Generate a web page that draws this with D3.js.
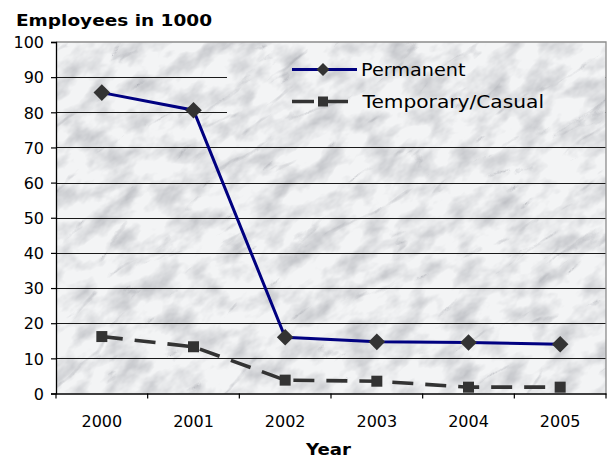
<!DOCTYPE html>
<html><head><meta charset="utf-8">
<script src="https://cdn.jsdelivr.net/npm/d3@7"></script>
<style>
html,body{margin:0;padding:0;background:#fff;}
svg{display:block;font-family:"DejaVu Sans",Verdana,sans-serif;}
</style></head>
<body>
<script>
const years = ["2000","2001","2002","2003","2004","2005"];
const permanent = [85.6, 80.6, 16.0, 14.7, 14.5, 14.0];
const temporary = [16.2, 13.3, 3.8, 3.5, 1.8, 1.8];
const yTicks = [0,10,20,30,40,50,60,70,80,90,100];
const seriesNames = ["Permanent","Temporary/Casual"];

const W = 610, H = 459;
const L = 56, R = 606, T = 42, B = 393.5;

const svg = d3.select("body").append("svg").attr("width", W).attr("height", H);
const defs = svg.append("defs");

// mottled layer
const f1 = defs.append("filter").attr("id","mottle")
  .attr("filterUnits","userSpaceOnUse").attr("x",-400).attr("y",-400).attr("width",1600).attr("height",1600)
  .attr("color-interpolation-filters","sRGB");
f1.append("feTurbulence").attr("type","fractalNoise").attr("baseFrequency","0.03 0.05")
  .attr("numOctaves",4).attr("seed",5).attr("result","n");
f1.append("feColorMatrix").attr("in","n").attr("type","matrix")
  .attr("values","0 0 0 0 0.58  0 0 0 0 0.59  0 0 0 0 0.62  1.1 0 0 0 -0.44");
// vein layer
const f2 = defs.append("filter").attr("id","veins")
  .attr("filterUnits","userSpaceOnUse").attr("x",-400).attr("y",-400).attr("width",1600).attr("height",1600)
  .attr("color-interpolation-filters","sRGB");
f2.append("feTurbulence").attr("type","turbulence").attr("baseFrequency","0.008 0.025")
  .attr("numOctaves",4).attr("seed",11).attr("result","t");
f2.append("feColorMatrix").attr("in","t").attr("type","matrix")
  .attr("values","0 0 0 0 0.48  0 0 0 0 0.49  0 0 0 0 0.53  -2.4 0 0 0 0.30");

defs.append("clipPath").attr("id","plotClip").append("rect")
  .attr("x",L).attr("y",T).attr("width",R-L).attr("height",B-T);
defs.append("clipPath").attr("id","legClip").append("rect")
  .attr("x",227).attr("y",T+0.5).attr("width",R-227-0.5).attr("height",145-T);

function texture(clipId){
  const g = svg.append("g").attr("clip-path",`url(#${clipId})`);
  g.append("rect").attr("x",L).attr("y",T).attr("width",R-L).attr("height",B-T).attr("fill","#f3f4f5");
  const r = g.append("g").attr("transform","rotate(-35 330 220)");
  r.append("rect").attr("x",-200).attr("y",-200).attr("width",1100).attr("height",900)
   .attr("fill","#fff").attr("filter","url(#mottle)");
  r.append("rect").attr("x",-200).attr("y",-200).attr("width",1100).attr("height",900)
   .attr("fill","#fff").attr("filter","url(#veins)");
  return g;
}
texture("plotClip");

const x = d3.scaleBand().domain(years).range([L, R]).padding(0);
const y = d3.scaleLinear().domain([0,100]).range([B, T]);

// gridlines
const grid = svg.append("g").attr("transform",`translate(${L},0)`)
  .call(d3.axisLeft(y).tickValues(yTicks.filter(v=>v>0 && v<100)).tickSize(-(R-L)).tickFormat(""));
grid.select(".domain").remove();
grid.selectAll("line").attr("stroke","#1a1a1a").attr("stroke-width",1).attr("shape-rendering","crispEdges");

// legend box covering gridlines
texture("legClip");

// frame top/right
svg.append("path").attr("d",`M${L},${y(100)}H${R}V${B}`).attr("fill","none")
  .attr("stroke","#8c8c8c").attr("stroke-width",1.3);

// y axis
const ya = svg.append("g").attr("transform",`translate(${L},0)`)
  .call(d3.axisLeft(y).tickValues(yTicks).tickSize(5).tickPadding(7));
ya.select(".domain").attr("stroke","#000").attr("stroke-width",1.3);
ya.selectAll(".tick line").attr("stroke","#000").attr("stroke-width",1.2);
ya.selectAll("text").attr("font-size",16).attr("font-family","DejaVu Sans").attr("fill","#000").attr("dy","0.36em");

// x axis
const xa = svg.append("g").attr("transform",`translate(0,${B})`)
  .call(d3.axisBottom(x).tickSize(0).tickPadding(22));
xa.select(".domain").attr("stroke","#000").attr("stroke-width",1.3);
xa.selectAll("text").attr("font-size",16).attr("font-family","DejaVu Sans").attr("fill","#000");
const bounds = years.map(d => x(d)).concat([x.range()[1]]);
xa.selectAll(".bt").data(bounds).enter().append("line").attr("class","bt")
  .attr("x1",d=>d).attr("x2",d=>d).attr("y1",0).attr("y2",5)
  .attr("stroke","#000").attr("stroke-width",1.2);

const cx = d => x(d) + x.bandwidth()/2;
const line = d3.line().x((d,i)=>cx(years[i])).y(d=>y(d));

// temporary series
svg.append("path").datum(temporary).attr("d",line).attr("fill","none")
  .attr("stroke","#333").attr("stroke-width",3.6).attr("stroke-dasharray","21,12");
svg.selectAll(".sq").data(temporary).enter().append("rect")
  .attr("x",(d,i)=>cx(years[i])-5.5).attr("y",d=>y(d)-5.5).attr("width",11).attr("height",11).attr("fill","#333");

// permanent series
svg.append("path").datum(permanent).attr("d",line).attr("fill","none")
  .attr("stroke","#000080").attr("stroke-width",3);
const diamond = (px,py,r) => `M${px},${py-r}L${px+r},${py}L${px},${py+r}L${px-r},${py}Z`;
svg.selectAll(".dm").data(permanent).enter().append("path")
  .attr("d",(d,i)=>diamond(cx(years[i]), y(d), 8.3)).attr("fill","#333");

// legend
const lg = svg.append("g");
lg.append("line").attr("x1",292).attr("x2",357).attr("y1",69.5).attr("y2",69.5)
  .attr("stroke","#000080").attr("stroke-width",3);
lg.append("path").attr("d",diamond(323,69.5,6.5)).attr("fill","#333");
lg.append("line").attr("x1",292).attr("x2",348).attr("y1",101.5).attr("y2",101.5)
  .attr("stroke","#333").attr("stroke-width",3.6).attr("stroke-dasharray","22,12");
lg.append("rect").attr("x",318).attr("y",96.5).attr("width",10).attr("height",10).attr("fill","#333");
lg.append("text").attr("x",361).attr("y",75.7).attr("font-size",18).attr("textLength",104.5)
  .attr("lengthAdjust","spacingAndGlyphs").attr("fill","#000").text(seriesNames[0]);
lg.append("text").attr("x",362.5).attr("y",107.7).attr("font-size",17.5).attr("textLength",181.5)
  .attr("lengthAdjust","spacingAndGlyphs").attr("fill","#000").text(seriesNames[1]);

// titles
svg.append("text").attr("x",16).attr("y",26).attr("font-size",16).attr("font-weight","bold")
  .attr("textLength",196).attr("lengthAdjust","spacingAndGlyphs").attr("fill","#000").text("Employees in 1000");
svg.append("text").attr("x",306).attr("y",455).attr("font-size",15.5).attr("font-weight","bold")
  .attr("textLength",45).attr("lengthAdjust","spacingAndGlyphs").attr("fill","#000").text("Year");
</script>
</body></html>
